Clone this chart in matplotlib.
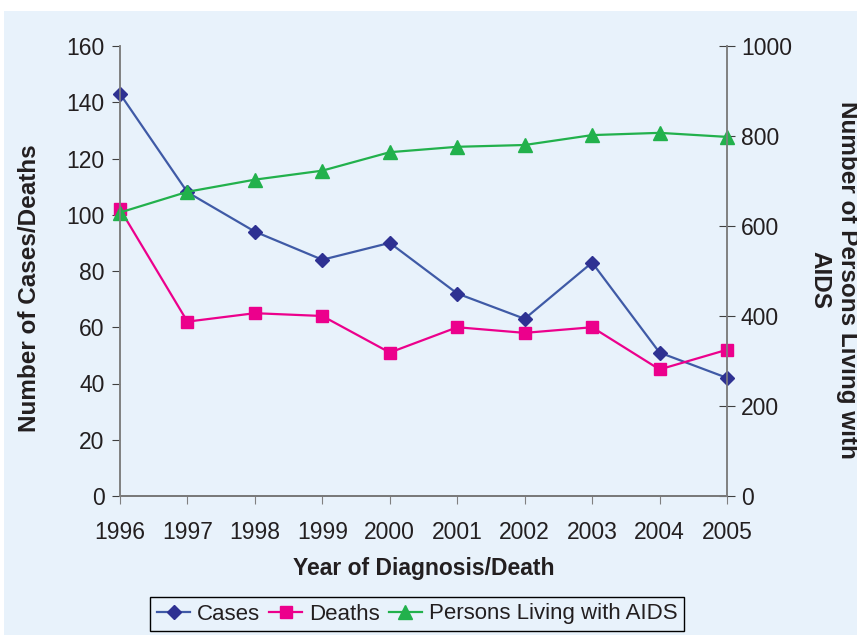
import matplotlib.pyplot as plt
from matplotlib.patches import Rectangle

plt.rcParams['font.family'] = ['Liberation Sans', 'DejaVu Sans']

# data
years = [1996, 1997, 1998, 1999, 2000, 2001, 2002, 2003, 2004, 2005]
cases = [143, 108, 94, 84, 90, 72, 63, 83, 51, 42]
deaths = [102, 62, 65, 64, 51, 60, 58, 60, 45, 52]
living = [630, 676, 703, 723, 764, 776, 780, 802, 807, 798]

bg = '#E8F2FB'
txt = '#231F20'
spine = '#808080'

fig = plt.figure(figsize=(8.57, 6.35), dpi=100, facecolor='white')
# light blue panel with white strip on top
fig.patches.append(Rectangle((4 / 857, 0), 1, 1 - 11 / 635, transform=fig.transFigure,
                             facecolor=bg, edgecolor='none', zorder=-10))

ax = fig.add_axes([120 / 857, 1 - 496 / 635, 607 / 857, 450 / 635])
ax.set_facecolor(bg)
ax2 = ax.twinx()

l1, = ax.plot(years, cases, color='#3F5AA6', lw=1.6, marker='D', ms=7,
              mfc='#2E3192', mec='#2E3192', label='Cases', clip_on=False, zorder=3)
l2, = ax.plot(years, deaths, color='#EC008C', lw=1.6, marker='s', ms=9,
              mfc='#EC008C', mec='#EC008C', label='Deaths', clip_on=False, zorder=3)
l3, = ax2.plot(years, living, color='#22B14C', lw=1.6, marker='^', ms=10,
               mfc='#22B14C', mec='#22B14C', label='Persons Living with AIDS', clip_on=False)

ax.set_xlim(1996, 2005)
ax.set_ylim(0, 160)
ax2.set_ylim(0, 1000)
ax.set_xticks(years)
ax.set_yticks(range(0, 161, 20))
ax2.set_yticks(range(0, 1001, 200))

for a in (ax, ax2):
    a.spines['top'].set_visible(False)
    for s in ('left', 'right', 'bottom'):
        a.spines[s].set_color(spine)
        a.spines[s].set_linewidth(1.2)
ax.spines['bottom'].set_color('#404040')

ax.tick_params(axis='y', direction='out', length=6, color='#404040', labelsize=16.5,
               labelcolor=txt, pad=5)
ax.tick_params(axis='x', direction='out', length=6, color=spine, labelsize=16.5,
               labelcolor=txt, pad=12)
ax2.tick_params(axis='y', direction='inout', length=12, color='#404040', labelsize=16.5,
                labelcolor=txt, pad=4)

ax.set_xlabel('Year of Diagnosis/Death', fontsize=16.5, fontweight='bold', color=txt, labelpad=9)
ax.set_ylabel('Number of Cases/Deaths', fontsize=17.5, fontweight='bold', color=txt)
ax.yaxis.set_label_coords(-0.130, 0.462)
fig.text(834 / 857, 1 - 280 / 635, 'Number of Persons Living with\nAIDS', rotation=-90,
         fontsize=17.5, fontweight='bold', color=txt, ha='center', va='center',
         multialignment='center', linespacing=1.25)

leg = fig.legend(handles=[l1, l2, l3], loc='center', ncol=3,
                 bbox_to_anchor=(417 / 857, 1 - 614 / 635), fontsize=16,
                 frameon=True, fancybox=False, edgecolor='black', facecolor=bg,
                 handlelength=1.5, handletextpad=0.3, columnspacing=0.4,
                 borderpad=0.3, framealpha=1)
leg.get_frame().set_linewidth(1.0)
for t in leg.get_texts():
    t.set_color(txt)

fig.savefig('out.png', dpi=100)
